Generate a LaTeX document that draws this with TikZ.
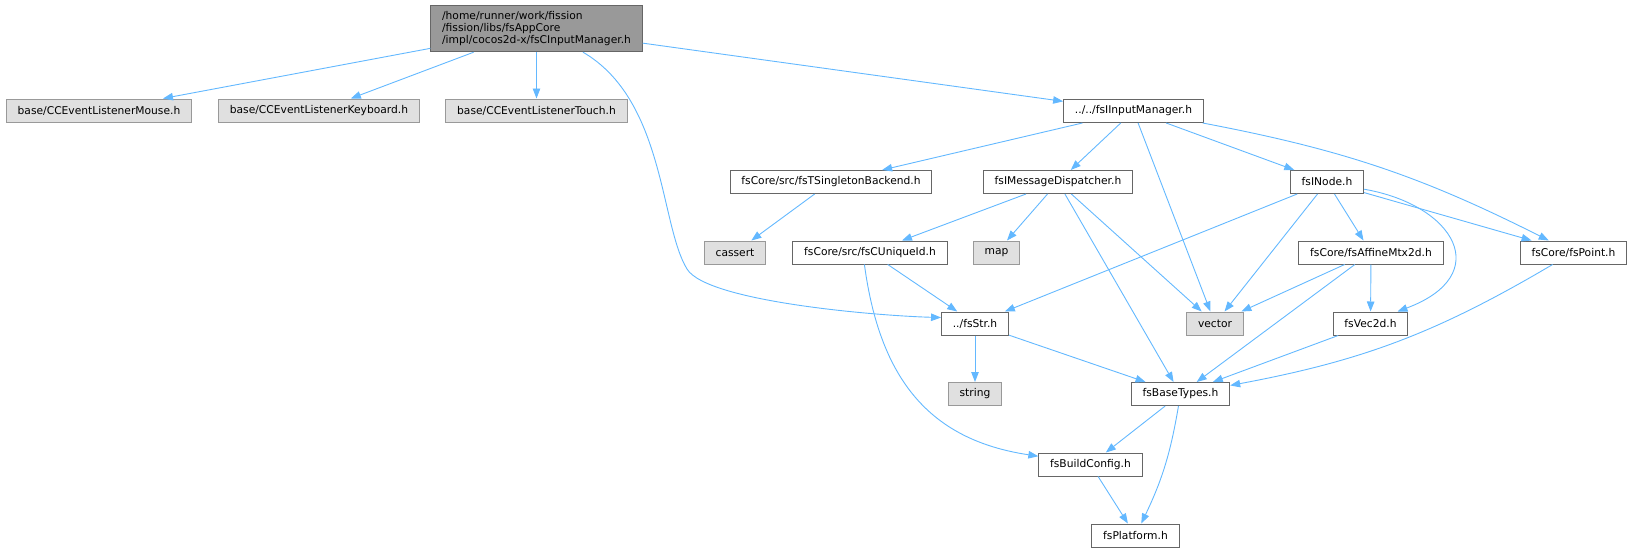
\documentclass[tikz,border=0pt]{standalone}
\usepackage{fontspec}
\setmainfont{DejaVu Sans}
\usetikzlibrary{arrows.meta}
\definecolor{edgeblue}{HTML}{63B8FF}
\definecolor{boxline}{HTML}{666666}
\definecolor{extline}{HTML}{999999}
\definecolor{extfill}{HTML}{E0E0E0}
\definecolor{rootfill}{HTML}{999999}
\begin{document}
\begin{tikzpicture}[x=1pt,y=-1pt,
  file/.style={draw=boxline, fill=white, line width=1pt, inner xsep=11.3pt, inner ysep=0pt, minimum height=23pt, font=\fontsize{10.7}{12}\selectfont},
  sysfile/.style={file, draw=extline, fill=extfill},
  dep/.style={draw=edgeblue, line width=0.9pt, -{Triangle[length=10pt,width=7.5pt]}}]
\useasboundingbox (0,0) rectangle (1633,552);
\node[file, fill=rootfill, align=left, inner ysep=6pt] (root) at (536.5,28.5) {/home/runner/work/fission\\/fission/libs/fsAppCore\\/impl/cocos2d-x/fsCInputManager.h};
\node[sysfile] (mouse) at (99,110.5) {base/CCEventListenerMouse.h};
\node[sysfile] (keyboard) at (319,110.5) {base/CCEventListenerKeyboard.h};
\node[sysfile] (touch) at (536.5,110.5) {base/CCEventListenerTouch.h};
\node[file] (iim) at (1133.5,111) {../../fsIInputManager.h};
\node[file] (single) at (831,182) {fsCore/src/fsTSingletonBackend.h};
\node[file] (msgd) at (1058,182) {fsIMessageDispatcher.h};
\node[file] (inode) at (1327,182) {fsINode.h};
\node[sysfile] (cassert) at (735,252.5) {cassert};
\node[file] (uid) at (870,252.5) {fsCore/src/fsCUniqueId.h};
\node[sysfile] (map) at (996.5,252.5) {map};
\node[file] (affine) at (1371,252.5) {fsCore/fsAffineMtx2d.h};
\node[file] (point) at (1573.5,252.5) {fsCore/fsPoint.h};
\node[file] (fsstr) at (975,323.5) {../fsStr.h};
\node[sysfile] (vector) at (1215,323.5) {vector};
\node[file] (vec2d) at (1370.5,323.5) {fsVec2d.h};
\node[sysfile] (string) at (975,394) {string};
\node[file] (basetypes) at (1180.5,394) {fsBaseTypes.h};
\node[file] (buildcfg) at (1090.5,464.5) {fsBuildConfig.h};
\node[file] (platform) at (1135.5,535.5) {fsPlatform.h};
\draw[dep] (root) -- (mouse);
\draw[dep] (root) -- (keyboard);
\draw[dep] (root) -- (touch);
\draw[dep] (root) -- (iim);
\draw[dep] (root.-27) .. controls (665,100) and (660,225) .. (687,269) .. controls (707,302) and (880,316) .. (fsstr.170);
\draw[dep] (iim) -- (single);
\draw[dep] (iim) -- (msgd);
\draw[dep] (iim) -- (vector);
\draw[dep] (iim) -- (inode);
\draw[dep] (iim) to[bend left=8] (point);
\draw[dep] (single) -- (cassert);
\draw[dep] (msgd) -- (uid);
\draw[dep] (msgd) -- (map);
\draw[dep] (msgd) -- (basetypes);
\draw[dep] (msgd) -- (vector);
\draw[dep] (inode) -- (fsstr);
\draw[dep] (inode) -- (vector);
\draw[dep] (inode) -- (affine);
\draw[dep] (inode.-11) .. controls (1455,205) and (1495,275) .. (vec2d.24);
\draw[dep] (inode) -- (point);
\draw[dep] (uid) -- (fsstr);
\draw[dep] (uid.-115) .. controls (880,380) and (930,440) .. (buildcfg.171);
\draw[dep] (affine) -- (vector);
\draw[dep] (affine) -- (basetypes);
\draw[dep] (affine) -- (vec2d);
\draw[dep] (point) to[bend left=10] (basetypes);
\draw[dep] (fsstr) -- (string);
\draw[dep] (fsstr) -- (basetypes);
\draw[dep] (vec2d) -- (basetypes);
\draw[dep] (basetypes) -- (buildcfg);
\draw[dep] (basetypes) to[bend left=8] (platform);
\draw[dep] (buildcfg) -- (platform);
\end{tikzpicture}
\end{document}
